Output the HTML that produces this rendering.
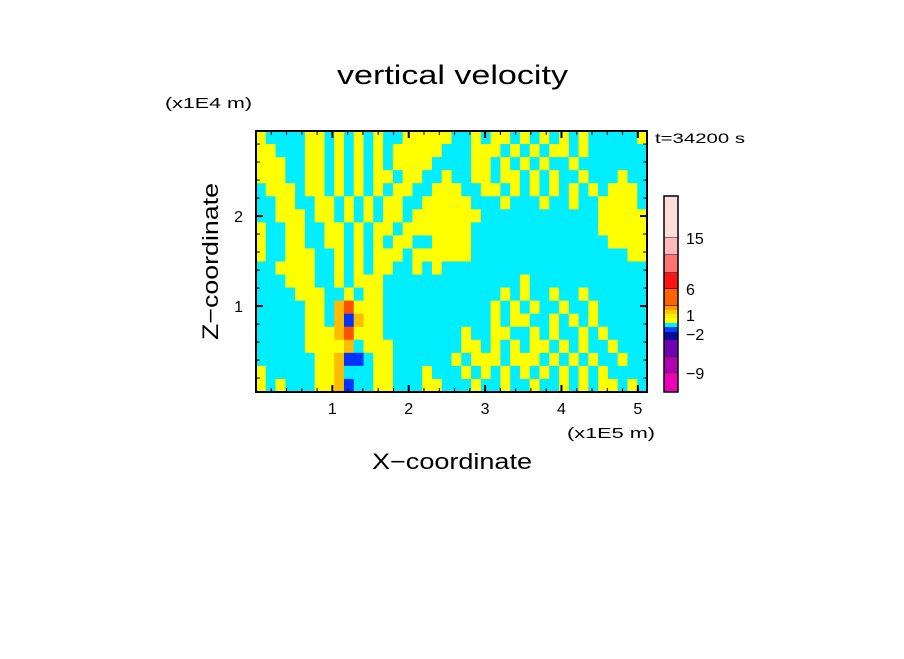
<!DOCTYPE html>
<html><head><meta charset="utf-8"><style>
body{margin:0;background:#fff;width:904px;height:654px;overflow:hidden;font-family:"Liberation Sans",sans-serif}
</style></head><body>
<svg id="chart" width="904" height="654" xmlns="http://www.w3.org/2000/svg" font-family="Liberation Sans, sans-serif">
<text x="337" y="84" font-size="27" textLength="231" lengthAdjust="spacingAndGlyphs">vertical velocity</text>
<text x="165" y="108" font-size="15" textLength="87" lengthAdjust="spacingAndGlyphs">(x1E4 m)</text>
<text x="655" y="143" font-size="14" textLength="90" lengthAdjust="spacingAndGlyphs">t=34200 s</text>
<text x="567" y="438" font-size="15" textLength="88" lengthAdjust="spacingAndGlyphs">(x1E5 m)</text>
<text x="372" y="469" font-size="22" textLength="160" lengthAdjust="spacingAndGlyphs">X−coordinate</text>
<text x="218" y="340" font-size="22" textLength="157" lengthAdjust="spacingAndGlyphs" transform="rotate(-90 218 340)">Z−coordinate</text>
<g id="field"></g>
<g id="axes"></g>
<g id="cbar"></g>
</svg>
<script>
const xTicks=[1,2,3,4,5];
const yTicks=[1,2];
const cbarLabels=["15","6","1","−2","−9"];
const cbarColors=["#ffdcdc","#ffb9b9","#ff7373","#ff1414","#ff6400","#ff9900","#ffcc00","#ffee00","#ffff00","#00eeff","#0044ff","#0a0a9a","#7000b0","#b000b0","#ee00b8"];
const fieldRows=[
"YCCCCYYCYCYCYCCYYYYYCCYCYYCYCYCYCYCCCCCY",
"YYCCCYYCYCYCYCYYYYYCCCYYYCYCYCYYCYCCCCCC",
"YYYCCYYCYCYCYCYYYYCCCCYYCYCYCYCCYCCCCCCC",
"YYYCCYYCYCYCYYCYYCCYCCYYCYYCYCYCCYCCCYCC",
"CYYYCYYCYCYCYCYYCCYYYCCYYCYCYCYCYCYCYYYC",
"CCYYCCYYCYCYCYYCCYYYYYCCCYCCCYCCYCCYYYYC",
"CCYYYCYYCYCYCYYCYYYYYYYCCCCCCCCCCCCYYYYY",
"YCCYYCCYYCYCYYCYYYYYYYCCCCCCCCCCCCCYYYYY",
"YCCYYCCYYCYCYCYYCCYYYYCCCCCCCCCCCCCCYYYY",
"YCCYYYCCYCYCYYYCYYYYYYCCCCCCCCCCCCCCCCYY",
"CCYYYYCCYCYCYYCCYCYCCCCCCCCCCCCCCCCCCCCC",
"CCCYYYCCYCYYYCCCCCCCCCCCCCCYCCCCCCCCCCCC",
"CCCCYYYCCYCYYCCCCCCCCCCCCYCYCCYCCYCCCCCC",
"CCCCCYYCORYYYCCCCCCCCCCCYCYCYCCYCCYCCCCC",
"CCCCCYYCOBOYYCCCCCCCCCCCYCYYCCYCYCYCCCCC",
"CCCCCYYYORYYYCCCCCCCCYCCYYCCYCYCCYCYCCCC",
"CCCCCYYYYOCYYYCCCCCCCYYCYCYCYYCYCYCCYCCC",
"CCCCCCYYOBBCYYCCCCCCYCYYYCYYYCYCYCYCCYCC",
"YCCCCCYYOCCCYYCCCYCCCYCYCYCYCYCYCYCYCCCC",
"YCYCCCYYOBCCYYCCCYYCCCYCCYCCYCCYCYCYYCYC"];
const fieldColor={Y:"#ffff00",C:"#00eeff",O:"#ffbb00",R:"#ff5000",B:"#0033ff"};
const NS="http://www.w3.org/2000/svg";
const X0=256,X1=647,Y0=131,Y1=392;
const xMin=0,xMax=5.12,zMin=0.045,zMax=2.945;
function sx(v){return X0+(v-xMin)/(xMax-xMin)*(X1-X0);}
function sy(v){return Y1-(v-zMin)/(zMax-zMin)*(Y1-Y0);}
function mk(tag,attrs,parent){const e=document.createElementNS(NS,tag);for(const k in attrs)e.setAttribute(k,attrs[k]);parent.appendChild(e);return e;}
const field=document.getElementById('field');
const nr=fieldRows.length,nc=fieldRows[0].length;
const cw=(X1-X0)/nc,ch=(Y1-Y0)/nr;
for(let r=0;r<nr;r++){for(let c=0;c<nc;c++){
 const k=fieldRows[r][c]||"C";
 const el=mk('rect',{x:(X0+c*cw).toFixed(2),y:(Y0+r*ch).toFixed(2),width:(cw+0.6).toFixed(2),height:(ch+0.6).toFixed(2),fill:fieldColor[k]},field);
 
 
}}
const axes=document.getElementById('axes');
const fr=mk('rect',{x:X0,y:Y0,width:X1-X0,height:Y1-Y0,fill:"none",stroke:"#000","stroke-width":2},axes);


for(let v=0.2;v<xMax;v+=0.2){const x=sx(v);const maj=Math.abs(v-Math.round(v))<0.01;const L=maj?7:4;
 mk('line',{x1:x,y1:Y1,x2:x,y2:Y1-L,stroke:"#000","stroke-width":maj?2:1},axes);
 mk('line',{x1:x,y1:Y0,x2:x,y2:Y0+L,stroke:"#000","stroke-width":maj?2:1},axes);}
for(let v=0.2;v<zMax;v+=0.2){const y=sy(v);const maj=Math.abs(v-Math.round(v))<0.01;const L=maj?7:4;
 mk('line',{x1:X0,y1:y,x2:X0+L,y2:y,stroke:"#000","stroke-width":maj?2:1},axes);
 mk('line',{x1:X1,y1:y,x2:X1-L,y2:y,stroke:"#000","stroke-width":maj?2:1},axes);}
xTicks.forEach(t=>{const e=mk('text',{x:sx(t),y:414,"font-size":16,"text-anchor":"middle"},axes);e.textContent=t;
 
 });
yTicks.forEach(t=>{const e=mk('text',{x:243,y:sy(t)+6,"font-size":16,"text-anchor":"end"},axes);e.textContent=t;
 
 });
const cb=document.getElementById('cbar');
const bounds=[196,238,255,273,289,306,310,314,318,323,327,332,340,357,373,392];
cbarColors.forEach((col,i)=>{const b0=bounds[i],b1=bounds[i+1];
 const e=mk('rect',{x:664,y:b0,width:14,height:b1-b0,fill:col},cb);
 
 
 if(b1-b0>8){mk('line',{x1:664,y1:b1,x2:678,y2:b1,stroke:"#000","stroke-width":1},cb);}});
const ob=mk('rect',{x:664,y:196,width:14,height:196,fill:"none",stroke:"#000","stroke-width":1.5},cb);


const lblY=[238,289,315,334,373];
cbarLabels.forEach((l,i)=>{const e=mk('text',{x:686,y:lblY[i]+6,"font-size":16},cb);e.textContent=l;
 
 });
</script>
</body></html>
